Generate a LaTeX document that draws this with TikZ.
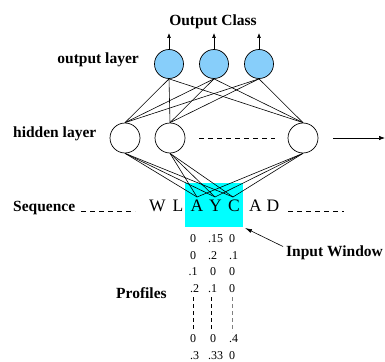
\documentclass[tikz,border=0pt]{standalone}
\usepackage{fontspec}
\setmainfont{Liberation Serif}
\usetikzlibrary{arrows.meta}
\definecolor{winc}{RGB}{0,255,255}
\definecolor{outc}{RGB}{135,206,250}
\begin{document}
\begin{tikzpicture}[x=1pt,y=-1pt,
  outn/.style={circle,draw,line width=0.7pt,fill=outc,minimum size=29pt,inner sep=0pt},
  hidn/.style={circle,draw,line width=0.7pt,fill=white,minimum size=30pt,inner sep=0pt},
  lbl/.style={font=\fontsize{15.5}{18}\selectfont\bfseries,inner sep=0pt,anchor=base},
  seq/.style={font=\fontsize{17.5}{20}\selectfont,inner sep=0pt,anchor=base},
  num/.style={font=\fontsize{12}{14}\selectfont,inner sep=0pt,anchor=base west},
  conn/.style={line width=0.6pt},
  dsh/.style={line width=1pt,dash pattern=on 5pt off 4pt},
  vdsh/.style={line width=0.7pt,dash pattern=on 4pt off 3pt},
  tip/.style={-{Latex[length=5pt,width=4pt]},line width=0.7pt}]
\useasboundingbox (0,0) rectangle (385,361);
% input window
\node[fill=winc,minimum width=58pt,minimum height=44pt,inner sep=0pt] (win) at (214,205) {};
% output layer
\node[outn] (o1) at (169,64) {};
\node[outn] (o2) at (214,64) {};
\node[outn] (o3) at (259,64) {};
\coordinate (a1) at (169,33);
\coordinate (a2) at (214,33);
\coordinate (a3) at (259,33);
\foreach \i in {1,2,3} \draw[tip] (o\i.north) -- (a\i);
\node[lbl] (oc) at (213,25.5) {Output Class};
\node[lbl,anchor=base east] (ol) at (139,63.5) {output layer};
% hidden layer
\node[hidn] (h1) at (125,138) {};
\node[hidn] (h2) at (170,138) {};
\node[hidn] (h3) at (303,138) {};
\coordinate (hd1) at (199,138);
\coordinate (hd2) at (275,138);
\draw[dsh] (hd1) -- (hd2);
\coordinate (ha1) at (333,138);
\coordinate (ha2) at (385,138);
\draw[-{Latex[length=6pt,width=4.5pt]},line width=0.7pt] (ha1) -- (ha2);
\node[lbl,anchor=base west] (hl) at (13,137.5) {hidden layer};
\foreach \o in {o1,o2,o3} \foreach \h in {h1,h2,h3} \draw[conn] (\o.south) -- (\h.north);
% sequence
\node[seq] (sW) at (157.5,211.5) {W};
\node[seq] (sL) at (178,211.5) {L};
\node[seq] (sA) at (197,211.5) {A};
\node[seq] (sY) at (215.5,211.5) {Y};
\node[seq] (sC) at (234,211.5) {C};
\node[seq] (sA2) at (255.5,211.5) {A};
\node[seq] (sD) at (273,211.5) {D};
\coordinate (tA) at (197,197);
\coordinate (tY) at (215,197);
\coordinate (tC) at (233,197);
\foreach \h in {h1,h2,h3} \foreach \t in {tA,tY,tC} \draw[conn] (\h.south) -- (\t);
\node[lbl,anchor=base west] (sq) at (13,211.5) {Sequence};
\coordinate (sl1) at (81,211);
\coordinate (sl2) at (135,211);
\coordinate (sr1) at (288,211);
\coordinate (sr2) at (344,211);
\draw[dsh] (sl1) -- (sl2);
\draw[dsh] (sr1) -- (sr2);
% input window label
\node[lbl,anchor=base west] (iw) at (286,256.5) {Input Window};
\coordinate (iwt) at (283,246.5);
\coordinate (iwh) at (245,228);
\draw[-{Latex[length=7pt,width=4pt]},line width=0.6pt] (iwt) -- (iwh);
% profiles
\node[lbl,anchor=base west] (pr) at (116,298) {Profiles};
\node[num] (p11) at (190,242.5) {0};
\node[num] (p12) at (208,242.5) {.15};
\node[num] (p13) at (229,242.5) {0};
\node[num] (p21) at (190,259) {0};
\node[num] (p22) at (208,259) {.2};
\node[num] (p23) at (229,259) {.1};
\node[num] (p31) at (188.5,275.5) {.1};
\node[num] (p32) at (210,275.5) {0};
\node[num] (p33) at (229,275.5) {0};
\node[num] (p41) at (190,292) {.2};
\node[num] (p42) at (208,292) {.1};
\node[num] (p43) at (229,292) {0};
\node[num] (p51) at (190,342.5) {0};
\node[num] (p52) at (210,342.5) {0};
\node[num] (p53) at (229,342.5) {.4};
\node[num] (p61) at (190,359) {.3};
\node[num] (p62) at (208,359) {.33};
\node[num] (p63) at (229,359) {0};
\coordinate (v1a) at (193.3,297);
\coordinate (v1b) at (193.3,330);
\coordinate (v2a) at (211,297);
\coordinate (v2b) at (211,330);
\coordinate (v3a) at (232.3,297);
\coordinate (v3b) at (232.3,332);
\draw[vdsh] (v1a) -- (v1b);
\draw[vdsh] (v2a) -- (v2b);
\draw[vdsh,gray] (v3a) -- (v3b);
\end{tikzpicture}
\end{document}
